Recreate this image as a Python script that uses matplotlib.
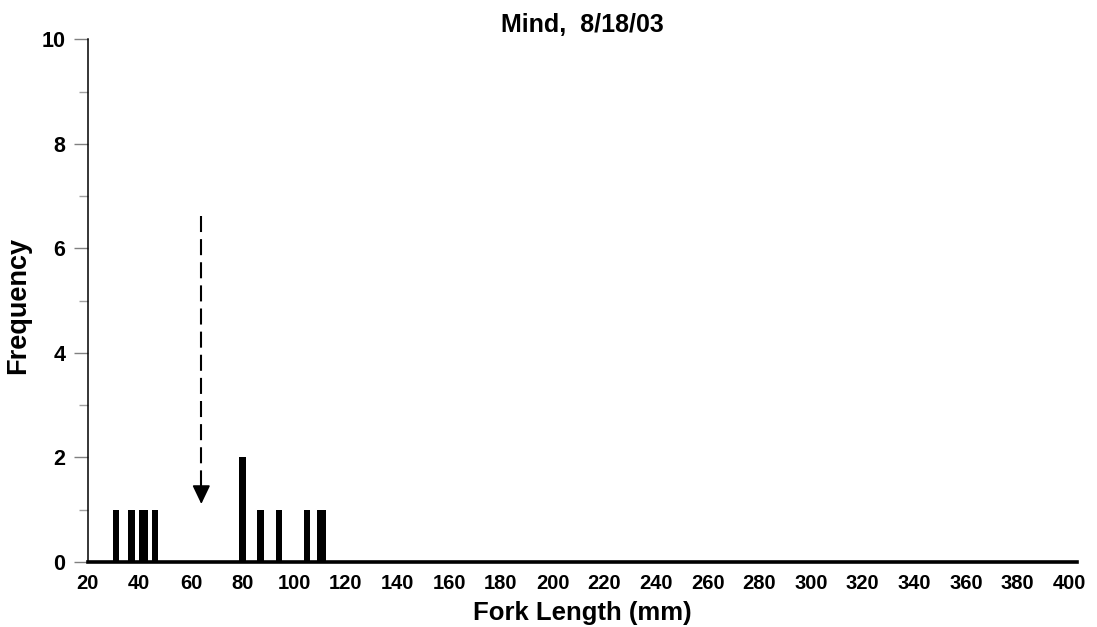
import numpy as np
import matplotlib
matplotlib.use("Agg")
import matplotlib.pyplot as plt

plt.rcParams['font.family'] = ['Liberation Sans', 'DejaVu Sans']
plt.rcParams['font.weight'] = 'bold'

# fork length (mm) of each bar and its frequency
lengths = [31, 37, 41, 42, 46, 80, 87, 94, 105, 110, 111]
counts = [1, 1, 1, 1, 1, 2, 1, 1, 1, 1, 1]

# dashed arrow marking the mean length
arrow_x = 64
arrow_top = 6.62
arrow_tip = 1.11

x_ticks = list(range(20, 401, 20))
y_ticks = [0, 2, 4, 6, 8, 10]

fig = plt.figure(figsize=(10.97, 6.27), dpi=100)
ax = fig.add_axes([0.0799, 0.1037, 0.9019, 0.8336])

ax.bar(lengths, counts, width=2.5, color='black', zorder=2)

# arrow: dashed shaft + solid head
ax.plot([arrow_x, arrow_x], [arrow_top, arrow_tip + 0.32], color='black',
        lw=1.5, linestyle=(0, (7.7, 3.4)))
ax.annotate('', xy=(arrow_x, arrow_tip), xytext=(arrow_x, arrow_tip + 0.33),
            arrowprops=dict(arrowstyle='-|>,head_length=1.15,head_width=0.55',
                            color='black', lw=1.2, shrinkA=0, shrinkB=0))

ax.set_xlim(20, 403)
ax.set_ylim(0, 10)
ax.set_xticks(x_ticks)
ax.set_yticks(y_ticks)
ax.set_yticks([1, 3, 5, 7, 9], minor=True)

for s in ['top', 'right']:
    ax.spines[s].set_visible(False)
ax.spines['left'].set_linewidth(1.1)
ax.spines['bottom'].set_linewidth(2.6)
ax.spines['bottom'].set_zorder(3)

ax.tick_params(axis='x', length=0, pad=9, labelsize=14.5)
ax.tick_params(axis='y', which='major', length=10, width=1, color='#808080',
               pad=6, labelsize=15.5)
ax.tick_params(axis='y', which='minor', length=6.7, width=1, color='#a0a0a0')

ax.set_xlabel('Fork Length (mm)', fontsize=18.5, fontweight='bold', labelpad=5.5)
ax.set_ylabel('Frequency', fontsize=19.5, fontweight='bold')
ax.yaxis.set_label_coords(-0.057, 0.49)
ax.set_title('Mind,  8/18/03', fontsize=18, fontweight='bold', pad=5)

fig.savefig('out.png', dpi=100)
